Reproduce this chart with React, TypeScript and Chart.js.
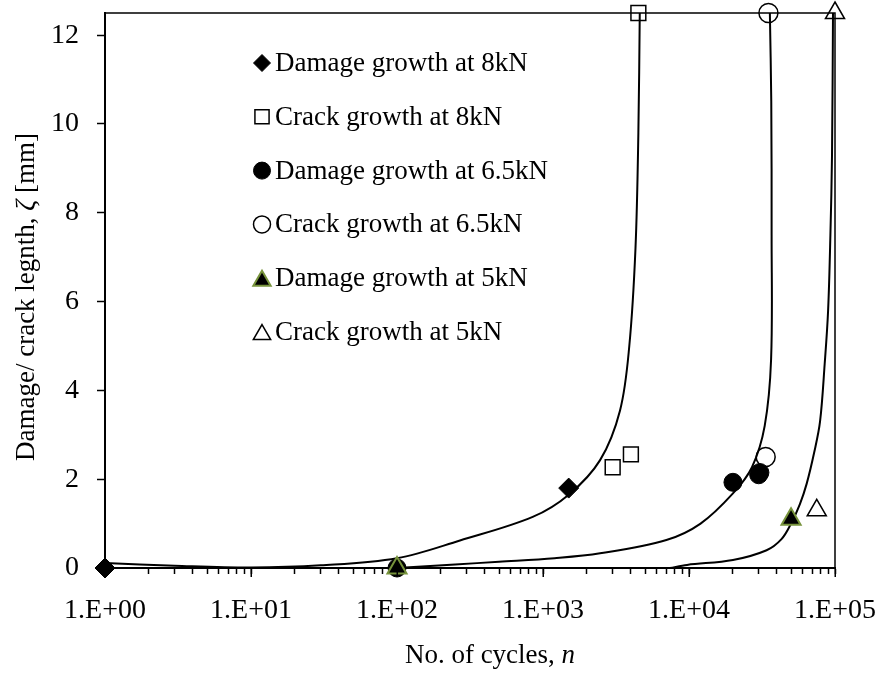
import React, { useEffect, useRef } from 'react';
import { Chart, registerables } from 'chart.js';

Chart.register(...registerables);

const SERIF = '"Liberation Serif", "Times New Roman", serif';

// Axis ticks
const yTickValues = [0, 2, 4, 6, 8, 10, 12];
const decadeValues = [1, 10, 100, 1000, 10000, 100000];
const decadeLabels = ['1.E+00', '1.E+01', '1.E+02', '1.E+03', '1.E+04', '1.E+05'];

// Series names
const seriesLabels = [
  'Damage growth at 8kN',
  'Crack growth at 8kN',
  'Damage growth at 6.5kN',
  'Crack growth at 6.5kN',
  'Damage growth at 5kN',
  'Crack growth at 5kN',
];

// Measured points: cycles n, length ζ [mm]
const damage8kN_n = [1, 1500];
const damage8kN_z = [0, 1.8];
const crack8kN_n = [3000, 4000, 4500];
const crack8kN_z = [2.27, 2.56, 12.5];
const damage65kN_n = [100, 20000, 30000, 30600];
const damage65kN_z = [0, 1.93, 2.1, 2.15];
const crack65kN_n = [33500, 35000];
const crack65kN_z = [2.5, 12.5];
const damage5kN_n = [100, 50000];
const damage5kN_z = [0, 1.1];
const crack5kN_n = [75000, 100000];
const crack5kN_z = [1.3, 12.5];

// Model curves
const model8kN_n = [1, 3, 10, 30, 100, 270, 850, 1500, 2460, 3370, 3900, 4300, 4500, 4600];
const model8kN_z = [0.11, 0.05, 0.01, 0.06, 0.22, 0.62, 1.15, 1.65, 2.43, 3.55, 5.0, 7.2, 9.8, 12.5];
const model65kN_n = [100, 250, 500, 1200, 2460, 7000, 12000, 20000, 27000, 33000, 36500, 36800, 36600, 35800];
const model65kN_z = [0.0, 0.08, 0.14, 0.22, 0.33, 0.63, 1.0, 1.68, 2.27, 3.2, 4.7, 7.5, 10.5, 12.5];
const model5kN_n = [7400, 9700, 20000, 34000, 43000, 50000, 57500, 64000, 72000, 79000, 85000, 89700, 93000, 95400, 96900];
const model5kN_z = [0, 0.07, 0.18, 0.4, 0.65, 1.0, 1.44, 1.9, 2.6, 3.3, 4.6, 5.8, 7.5, 9.3, 12.5];

type MarkerStyle = {
  shape: 'rectRot' | 'rect' | 'circle' | 'triangle';
  radius: number;
  legendRadius: number;
  fill: string;
  stroke: string;
  width: number;
};

const OPEN = 'rgba(255,255,255,0)';
const markerStyles: MarkerStyle[] = [
  { shape: 'rectRot', radius: 10, legendRadius: 8.5, fill: '#000', stroke: '#000', width: 1 },
  { shape: 'rect', radius: 10.5, legendRadius: 10, fill: OPEN, stroke: '#000', width: 1.5 },
  { shape: 'circle', radius: 9, legendRadius: 8.5, fill: '#000', stroke: '#000', width: 1 },
  { shape: 'circle', radius: 9.5, legendRadius: 8.5, fill: OPEN, stroke: '#000', width: 1.5 },
  { shape: 'triangle', radius: 11, legendRadius: 10, fill: '#000', stroke: '#77933C', width: 2 },
  { shape: 'triangle', radius: 11, legendRadius: 10, fill: OPEN, stroke: '#000', width: 1.5 },
];

const FONT_SIZE = 27;
const TICK_FONT_SIZE = 28;

const pts = (xs: number[], ys: number[]) => xs.map((x, i) => ({ x, y: ys[i] }));

function drawMarker(ctx: CanvasRenderingContext2D, m: MarkerStyle, x: number, y: number, r: number) {
  ctx.beginPath();
  if (m.shape === 'rectRot') {
    ctx.moveTo(x - r, y);
    ctx.lineTo(x, y - r);
    ctx.lineTo(x + r, y);
    ctx.lineTo(x, y + r);
    ctx.closePath();
  } else if (m.shape === 'rect') {
    const s = r * Math.SQRT1_2;
    ctx.rect(x - s, y - s, 2 * s, 2 * s);
  } else if (m.shape === 'circle') {
    ctx.arc(x, y, r, 0, Math.PI * 2);
  } else {
    ctx.moveTo(x, y - r);
    ctx.lineTo(x + 0.866 * r, y + 0.5 * r);
    ctx.lineTo(x - 0.866 * r, y + 0.5 * r);
    ctx.closePath();
  }
  ctx.fillStyle = m.fill;
  ctx.fill();
  ctx.lineWidth = m.width;
  ctx.strokeStyle = m.stroke;
  ctx.stroke();
}

// draws a run of text pieces (some italic) centred on (cx, cy)
function drawMixed(ctx: CanvasRenderingContext2D, parts: [string, boolean][], cx: number, cy: number) {
  const widths = parts.map(([t, it]) => {
    ctx.font = `${it ? 'italic ' : ''}${FONT_SIZE}px ${SERIF}`;
    return ctx.measureText(t).width;
  });
  let x = cx - widths.reduce((a, b) => a + b, 0) / 2;
  parts.forEach(([t, it], i) => {
    ctx.font = `${it ? 'italic ' : ''}${FONT_SIZE}px ${SERIF}`;
    ctx.fillText(t, x, cy);
    x += widths[i];
  });
}

const frameAndText = {
  id: 'frameAndText',
  afterDatasetsDraw(chart: Chart) {
    const { ctx, chartArea: a } = chart;
    const xs = chart.scales.x;
    ctx.save();
    // top and right frame lines
    ctx.strokeStyle = '#000';
    ctx.lineWidth = 1.5;
    ctx.beginPath();
    ctx.moveTo(a.left, a.top);
    ctx.lineTo(a.right, a.top);
    ctx.lineTo(a.right, a.bottom);
    ctx.stroke();
    // slightly longer marks at the decades
    ctx.beginPath();
    decadeValues.forEach((v) => {
      const px = Math.round(xs.getPixelForValue(v)) + 0.25;
      ctx.moveTo(px, a.bottom);
      ctx.lineTo(px, a.bottom + 9);
    });
    ctx.stroke();
    ctx.restore();
  },
  afterDraw(chart: Chart) {
    const { ctx } = chart;
    ctx.save();
    ctx.fillStyle = '#000';
    ctx.textBaseline = 'middle';
    ctx.textAlign = 'left';

    // legend inside the plot
    const legendX = 262;
    const legendY0 = 63;
    const legendStep = 53.8;
    seriesLabels.forEach((label, i) => {
      const m = markerStyles[i];
      const y = legendY0 + i * legendStep;
      const my = m.shape === 'triangle' ? y + m.legendRadius * 0.25 : y;
      drawMarker(ctx, m, legendX, my, m.legendRadius);
      ctx.fillStyle = '#000';
      ctx.font = `${FONT_SIZE}px ${SERIF}`;
      ctx.fillText(label, legendX + 13, y + 1);
    });

    // x axis title
    drawMixed(ctx, [['No. of cycles, ', false], ['n', true]], 490, 656);

    // y axis title (rotated)
    ctx.translate(27, 297);
    ctx.rotate(-Math.PI / 2);
    drawMixed(ctx, [['Damage/ crack legnth, ', false], ['ζ', true], [' [mm]', false]], 0, 0);
    ctx.restore();
  },
};

export default function App() {
  const ref = useRef<HTMLCanvasElement>(null);

  useEffect(() => {
    const canvas = ref.current;
    if (!canvas) return;

    const markerData = [
      pts(damage8kN_n, damage8kN_z),
      pts(crack8kN_n, crack8kN_z),
      pts(damage65kN_n, damage65kN_z),
      pts(crack65kN_n, crack65kN_z),
      pts(damage5kN_n, damage5kN_z),
      pts(crack5kN_n, crack5kN_z),
    ];
    // draw order: lower value ends up on top
    const markerOrder = [4, 5, 2, 3, 0, 1];

    const markerSets = markerData.map((data, i) => {
      const m = markerStyles[i];
      return {
        label: seriesLabels[i],
        data,
        showLine: false,
        pointStyle: m.shape,
        pointRadius: m.radius,
        pointHoverRadius: m.radius,
        pointBackgroundColor: m.fill,
        pointBorderColor: m.stroke,
        pointBorderWidth: m.width,
        clip: false as any,
        order: markerOrder[i],
      };
    });

    const curveSets = [
      pts(model8kN_n, model8kN_z),
      pts(model65kN_n, model65kN_z),
      pts(model5kN_n, model5kN_z),
    ].map((data, i) => ({
      label: `model-${i}`,
      data,
      showLine: true,
      pointRadius: 0,
      pointHoverRadius: 0,
      borderColor: '#000',
      borderWidth: 2,
      tension: 0.35,
      fill: false,
      order: 10 + i,
    }));

    const xTickValues: number[] = [];
    for (let k = 0; k < 5; k++) {
      for (let d = 1; d <= 9; d++) xTickValues.push(d * Math.pow(10, k));
    }
    xTickValues.push(100000);

    const chart = new Chart(canvas, {
      type: 'scatter',
      data: { datasets: [...curveSets, ...markerSets] as any },
      options: {
        animation: false,
        responsive: false,
        devicePixelRatio: 1,
        events: [],
        layout: { padding: { top: 12, right: 48, left: 0, bottom: 0 } },
        plugins: {
          legend: { display: false },
          tooltip: { enabled: false },
        },
        scales: {
          x: {
            type: 'logarithmic',
            min: 1,
            max: 100000,
            afterBuildTicks: (scale: any) => {
              scale.ticks = xTickValues.map((v) => ({ value: v }));
            },
            afterFit: (scale: any) => {
              scale.height = 681 - 568;
              scale.paddingLeft = 0;
              scale.paddingRight = 0;
            },
            grid: {
              drawOnChartArea: false,
              drawTicks: true,
              tickLength: 6,
              tickWidth: 1.5,
              tickColor: '#000',
            },
            border: { display: true, color: '#000', width: 2 },
            ticks: {
              autoSkip: false,
              maxRotation: 0,
              minRotation: 0,
              padding: 20,
              color: '#000',
              font: { family: SERIF, size: TICK_FONT_SIZE },
              callback: (value: any) => {
                const idx = decadeValues.indexOf(Number(value));
                return idx >= 0 ? decadeLabels[idx] : '';
              },
            },
          },
          y: {
            type: 'linear',
            min: 0,
            max: 12.5,
            afterBuildTicks: (scale: any) => {
              scale.ticks = yTickValues.map((v) => ({ value: v }));
            },
            afterFit: (scale: any) => {
              scale.width = 105;
              scale.paddingTop = 0;
              scale.paddingBottom = 0;
            },
            grid: {
              drawOnChartArea: false,
              drawTicks: true,
              tickLength: 8,
              tickWidth: 1.5,
              tickColor: '#000',
            },
            border: { display: true, color: '#000', width: 2 },
            ticks: {
              padding: 18,
              color: '#000',
              font: { family: SERIF, size: TICK_FONT_SIZE },
              callback: (value: any) => String(value),
            },
          },
        },
      },
      plugins: [frameAndText],
    });

    return () => chart.destroy();
  }, []);

  return (
    <div style={{ position: 'fixed', left: 0, top: 0, width: 883, height: 681, background: '#fff' }}>
      <canvas ref={ref} width={883} height={681} style={{ display: 'block', width: 883, height: 681 }} />
    </div>
  );
}
